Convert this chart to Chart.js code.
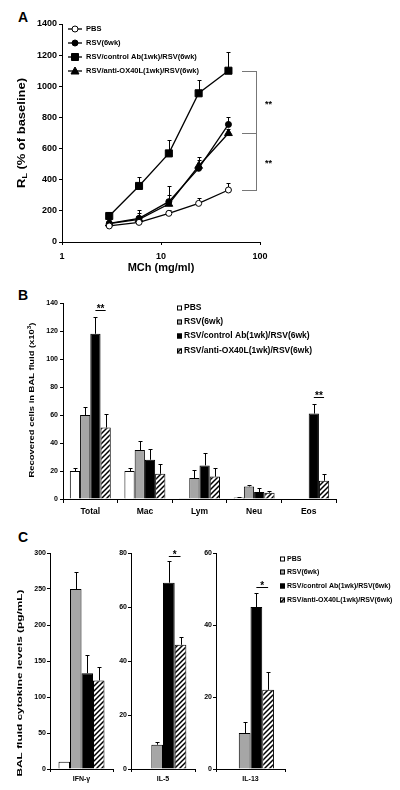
<!DOCTYPE html>
<html>
<head>
<meta charset="utf-8">
<script src="https://cdn.jsdelivr.net/npm/chart.js@4.4.1/dist/chart.umd.min.js"></script>
<style>
  body { margin: 0; background: #fff; }
  #fig { position: relative; width: 400px; height: 790px; background: #fff; overflow: hidden; }
  .panel { position: absolute; font: bold 14px "Liberation Sans", Arial, sans-serif; line-height: 14px; }
</style>
</head>
<body>
<div id="fig">
  <div class="panel" style="left:18px;top:10px">A</div>
  <div class="panel" style="left:18px;top:288px">B</div>
  <div class="panel" style="left:18px;top:530px">C</div>
</div>
<script>
const FONT = '"Liberation Sans", Arial, sans-serif';
Chart.defaults.font.family = FONT;
Chart.defaults.color = '#000';
Chart.defaults.animation = false;

const groups = ['PBS', 'RSV(6wk)', 'RSV/control Ab(1wk)/RSV(6wk)', 'RSV/anti-OX40L(1wk)/RSV(6wk)'];

// A: airway resistance vs MCh dose
const doses = [3, 6, 12, 24, 48];
const xTicksA = [1, 10, 100];
const pbsA = [103, 126, 184, 248, 334];
const pbsAErr = [8, 8, 20, 32, 45];
const rsvA = [120, 152, 259, 473, 755];
const rsvAErr = [20, 52, 100, 70, 50];
const ctrlA = [167, 360, 569, 955, 1100];
const ctrlAErr = [28, 55, 85, 85, 120];
const antiA = [118, 145, 244, 488, 698];
const antiAErr = [12, 42, 60, 40, 30];

// B: BAL cells
const cellTypes = ['Total', 'Mac', 'Lym', 'Neu', 'Eos'];
const pbsB = [20, 20, 0.5, 1, 0];
const pbsBErr = [2.5, 2, 0, 0.5, 0];
const rsvB = [60, 35, 15, 9, 0];
const rsvBErr = [6, 6.5, 6, 1, 0];
const ctrlB = [118, 28, 24, 5, 61];
const ctrlBErr = [12, 8, 9, 3, 7];
const antiB = [51, 18, 16, 4.5, 13];
const antiBErr = [10, 7, 6, 1.5, 5];
const sigB = [{ cat: 0, level: 135, mark: '**' }, { cat: 4, level: 73, mark: '**' }];

// C: cytokines
const cytokines = ['IFN-γ', 'IL-5', 'IL-13'];
const cytoMax = [300, 80, 60];
const cytoStep = [50, 20, 20];
const pbsC = [10, 0, 0];
const pbsCErr = [0, 0, 0];
const rsvC = [250, 9, 10];
const rsvCErr = [23, 1, 3];
const ctrlC = [133, 69, 45];
const ctrlCErr = [25, 8, 4];
const antiC = [123, 46, 22];
const antiCErr = [19, 3, 5];
const sigC = [null, { level: 79, mark: '*' }, { level: 50.5, mark: '*' }];

const GREY = '#a6a6a6';

function makeCanvas(left, top, w, h) {
  const c = document.createElement('canvas');
  c.width = w; c.height = h;
  c.style.cssText = `position:absolute;left:${left}px;top:${top}px;width:${w}px;height:${h}px`;
  document.getElementById('fig').appendChild(c);
  return c;
}

function hatch(ctx) {
  const p = document.createElement('canvas');
  p.width = p.height = 5;
  const g = p.getContext('2d');
  g.fillStyle = '#fff'; g.fillRect(0, 0, 5, 5);
  g.strokeStyle = '#000'; g.lineWidth = 1.5;
  g.beginPath();
  g.moveTo(0, 5); g.lineTo(5, 0);
  g.moveTo(-1, 1); g.lineTo(1, -1);
  g.moveTo(4, 6); g.lineTo(6, 4);
  g.stroke();
  return ctx.createPattern(p, 'repeat');
}

function hText(ctx, t, x, y, size, align) {
  ctx.save();
  ctx.font = `bold ${size}px ${FONT}`;
  ctx.fillStyle = '#000';
  ctx.textAlign = align || 'left';
  ctx.textBaseline = 'middle';
  ctx.fillText(t, x, y);
  ctx.restore();
}

// rotated title, stretched along its length to span len px
function vText(ctx, x, y, parts, len) {
  ctx.save();
  ctx.translate(x, y);
  ctx.rotate(-Math.PI / 2);
  ctx.fillStyle = '#000';
  ctx.textBaseline = 'middle';
  let w = 0;
  parts.forEach(p => { ctx.font = `bold ${p.size}px ${FONT}`; p.w = ctx.measureText(p.t).width; w += p.w; });
  ctx.scale(len / w, 1);
  let cx = -w / 2;
  parts.forEach(p => { ctx.font = `bold ${p.size}px ${FONT}`; ctx.fillText(p.t, cx, p.dy || 0); cx += p.w; });
  ctx.restore();
}

function drawErr(chart, errs) {
  const ctx = chart.ctx, ys = chart.scales.y;
  ctx.save();
  ctx.strokeStyle = '#000'; ctx.lineWidth = 1;
  errs.forEach((err, i) => {
    chart.getDatasetMeta(i).data.forEach((el, j) => {
      if (!err[j]) return;
      const v = chart.data.datasets[i].data[j];
      const val = typeof v === 'object' ? v.y : v;
      const x = Math.round(el.x) + 0.5;
      const y1 = Math.round(ys.getPixelForValue(val + err[j])) + 0.5;
      ctx.beginPath();
      ctx.moveTo(x, ys.getPixelForValue(val)); ctx.lineTo(x, y1);
      ctx.moveTo(x - 2, y1); ctx.lineTo(x + 2, y1);
      ctx.stroke();
    });
  });
  ctx.restore();
}

function drawSig(chart, cat, level, mark) {
  const ctx = chart.ctx;
  const x1 = chart.getDatasetMeta(2).data[cat].x;
  const x2 = chart.getDatasetMeta(3).data[cat].x;
  const y = Math.round(chart.scales.y.getPixelForValue(level)) + 0.5;
  ctx.save();
  ctx.strokeStyle = '#000'; ctx.lineWidth = 1;
  ctx.beginPath(); ctx.moveTo(x1, y); ctx.lineTo(x2, y); ctx.stroke();
  ctx.font = `bold 10px ${FONT}`;
  ctx.textAlign = 'center'; ctx.textBaseline = 'alphabetic';
  ctx.fillStyle = '#000';
  ctx.fillText(mark, (x1 + x2) / 2, y + 1);
  ctx.restore();
}

function boxLegend(ctx, fills, x, rows, size) {
  ctx.save();
  fills.forEach((f, i) => {
    ctx.fillStyle = f;
    ctx.fillRect(x, rows[i] - 2.5, 5, 5);
    ctx.strokeStyle = '#000'; ctx.lineWidth = 1;
    ctx.strokeRect(x + 0.5, rows[i] - 2, 4, 4);
    hText(ctx, groups[i], x + 7, rows[i], size);
  });
  ctx.restore();
}

function marker(ctx, style, x, y, fill) {
  ctx.save();
  ctx.fillStyle = fill; ctx.strokeStyle = '#000'; ctx.lineWidth = 1;
  ctx.beginPath();
  if (style === 'circle') ctx.arc(x, y, 3, 0, Math.PI * 2);
  else if (style === 'rect') ctx.rect(x - 3.5, y - 3.5, 7, 7);
  else { ctx.moveTo(x, y - 4); ctx.lineTo(x + 4, y + 3); ctx.lineTo(x - 4, y + 3); ctx.closePath(); }
  ctx.fill(); ctx.stroke();
  ctx.restore();
}

const axisGrid = { drawOnChartArea: false, color: '#000', tickLength: 3 };
const axisBorder = { color: '#000', width: 1 };
const plain = v => String(v);

// ---------- Panel A ----------
const styleA = [['circle', 3, '#fff'], ['circle', 3, '#000'], ['rect', 5, '#000'], ['triangle', 4.5, '#000']];
const seriesA = [pbsA, rsvA, ctrlA, antiA];
const cA = makeCanvas(0, 0, 300, 275);
new Chart(cA, {
  type: 'line',
  data: {
    datasets: seriesA.map((ys, i) => ({
      label: groups[i],
      data: doses.map((d, j) => ({ x: d, y: ys[j] })),
      borderColor: '#000', borderWidth: 1.3,
      pointStyle: styleA[i][0], pointRadius: styleA[i][1],
      pointBackgroundColor: styleA[i][2], pointBorderColor: '#000', pointBorderWidth: 1
    }))
  },
  options: {
    responsive: false,
    layout: { padding: { left: 0, top: 24, right: 40, bottom: 0 } },
    plugins: { legend: { display: false }, tooltip: { enabled: false } },
    scales: {
      x: {
        type: 'logarithmic', min: 1, max: 100,
        afterBuildTicks: s => { s.ticks = xTicksA.map(v => ({ value: v })); },
        ticks: { callback: plain, font: { size: 9, weight: 'bold' }, padding: 6, maxRotation: 0 },
        grid: axisGrid, border: axisBorder,
        afterFit: s => { s.height = 33; }
      },
      y: {
        min: 0, max: 1400,
        ticks: { stepSize: 200, callback: plain, font: { size: 9, weight: 'bold' }, padding: 2 },
        grid: axisGrid, border: axisBorder,
        afterFit: s => { s.width = 62; }
      }
    }
  },
  plugins: [{
    id: 'extrasA',
    beforeDatasetsDraw(chart) { drawErr(chart, [pbsAErr, rsvAErr, ctrlAErr, antiAErr]); },
    afterDraw(chart) {
      const ctx = chart.ctx, ys = chart.scales.y;
      // brackets
      const lv = [ctrlA[4], antiA[4], pbsA[4]].map(v => Math.round(ys.getPixelForValue(v)) + 0.5);
      ctx.save();
      ctx.strokeStyle = '#777'; ctx.lineWidth = 1;
      ctx.beginPath();
      lv.forEach(y => { ctx.moveTo(242, y); ctx.lineTo(257, y); });
      ctx.moveTo(256.5, lv[0]); ctx.lineTo(256.5, lv[2]);
      ctx.stroke();
      ctx.restore();
      hText(ctx, '**', 265, (lv[0] + lv[1]) / 2 + 2, 9);
      hText(ctx, '**', 265, (lv[1] + lv[2]) / 2 + 2, 9);
      // legend
      const rows = [29, 43, 57, 71];
      rows.forEach((y, i) => {
        ctx.save();
        ctx.strokeStyle = '#000'; ctx.lineWidth = 1.3;
        ctx.beginPath(); ctx.moveTo(68, y); ctx.lineTo(82, y); ctx.stroke();
        ctx.restore();
        marker(ctx, styleA[i][0], 75, y, styleA[i][2]);
        hText(ctx, groups[i], 86, y, 7.5);
      });
      // axis titles
      hText(ctx, 'MCh (mg/ml)', 161, 268, 11, 'center');
      vText(ctx, 22, 133, [{ t: 'R', size: 11 }, { t: 'L', size: 7.5, dy: 3 }, { t: ' (% of baseline)', size: 11 }], 110);
    }
  }]
});

// ---------- Panel B ----------
const cB = makeCanvas(0, 285, 345, 235);
const ctxB = cB.getContext('2d');
const fillsB = ['#fff', GREY, '#000', hatch(ctxB)];
new Chart(cB, {
  type: 'bar',
  data: {
    labels: cellTypes,
    datasets: [pbsB, rsvB, ctrlB, antiB].map((d, i) => ({
      label: groups[i], data: d, backgroundColor: fillsB[i],
      borderColor: '#000', borderWidth: 1, categoryPercentage: 0.75, barPercentage: 1
    }))
  },
  options: {
    responsive: false,
    layout: { padding: { left: 0, top: 18, right: 9, bottom: 0 } },
    plugins: { legend: { display: false }, tooltip: { enabled: false } },
    scales: {
      x: {
        ticks: { font: { size: 8.5, weight: 'bold' }, padding: 4 },
        grid: { drawOnChartArea: false, color: '#000', tickLength: 4 }, border: axisBorder,
        afterFit: s => { s.height = 21; }
      },
      y: {
        min: 0, max: 140,
        ticks: { stepSize: 20, callback: plain, font: { size: 7, weight: 'bold' }, padding: 2 },
        grid: axisGrid, border: axisBorder,
        afterFit: s => { s.width = 63; }
      }
    }
  },
  plugins: [{
    id: 'extrasB',
    afterDatasetsDraw(chart) {
      drawErr(chart, [pbsBErr, rsvBErr, ctrlBErr, antiBErr]);
      sigB.forEach(s => drawSig(chart, s.cat, s.level, s.mark));
    },
    afterDraw(chart) {
      const ctx = chart.ctx;
      boxLegend(ctx, fillsB, 177, [23, 37, 51, 66], 8.5);
      vText(ctx, 32, 115, [{ t: 'Recovered cells in BAL fluid (x10', size: 8 }, { t: '3', size: 5.5, dy: -3 }, { t: ')', size: 8 }], 155);
    }
  }]
});

// ---------- Panel C ----------
const boxC = [
  { left: 0, w: 118, yw: 50, pad: 5 },
  { left: 108, w: 92, yw: 23, pad: 5 },
  { left: 193, w: 207, yw: 23, pad: 115 }
];
const catPctC = [0.73, 0.73, 0.68];
cytokines.forEach((name, k) => {
  const b = boxC[k];
  const cv = makeCanvas(b.left, 540, b.w, 250);
  const fills = ['#fff', GREY, '#000', hatch(cv.getContext('2d'))];
  const vals = [pbsC, rsvC, ctrlC, antiC];
  const errs = [pbsCErr, rsvCErr, ctrlCErr, antiCErr];
  new Chart(cv, {
    type: 'bar',
    data: {
      labels: [name],
      datasets: vals.map((d, i) => ({
        label: groups[i], data: [d[k]], backgroundColor: fills[i],
        borderColor: '#000', borderWidth: 1, categoryPercentage: catPctC[k], barPercentage: 1
      }))
    },
    options: {
      responsive: false,
      layout: { padding: { left: 0, top: 13, right: b.pad, bottom: 0 } },
      plugins: { legend: { display: false }, tooltip: { enabled: false } },
      scales: {
        x: {
          ticks: { font: { size: 7, weight: 'bold' }, padding: 3 },
          grid: { drawOnChartArea: false, color: '#000', tickLength: 3 }, border: axisBorder,
          afterFit: s => { s.height = 21; }
        },
        y: {
          min: 0, max: cytoMax[k],
          ticks: { stepSize: cytoStep[k], callback: plain, font: { size: 7, weight: 'bold' }, padding: 1 },
          grid: axisGrid, border: axisBorder,
          afterFit: s => { s.width = b.yw; }
        }
      }
    },
    plugins: [{
      id: 'extrasC' + k,
      afterDatasetsDraw(chart) {
        drawErr(chart, errs.map(e => [e[k]]));
        if (sigC[k]) drawSig(chart, 0, sigC[k].level, sigC[k].mark);
      },
      afterDraw(chart) {
        const ctx = chart.ctx;
        if (k === 0) vText(ctx, 20, 143, [{ t: 'BAL fluid cytokine levels (pg/mL)', size: 8 }], 187);
        if (k === 2) boxLegend(ctx, fills, 87, [19, 32, 46, 60], 7);
      }
    }]
  });
});
</script>
</body>
</html>
